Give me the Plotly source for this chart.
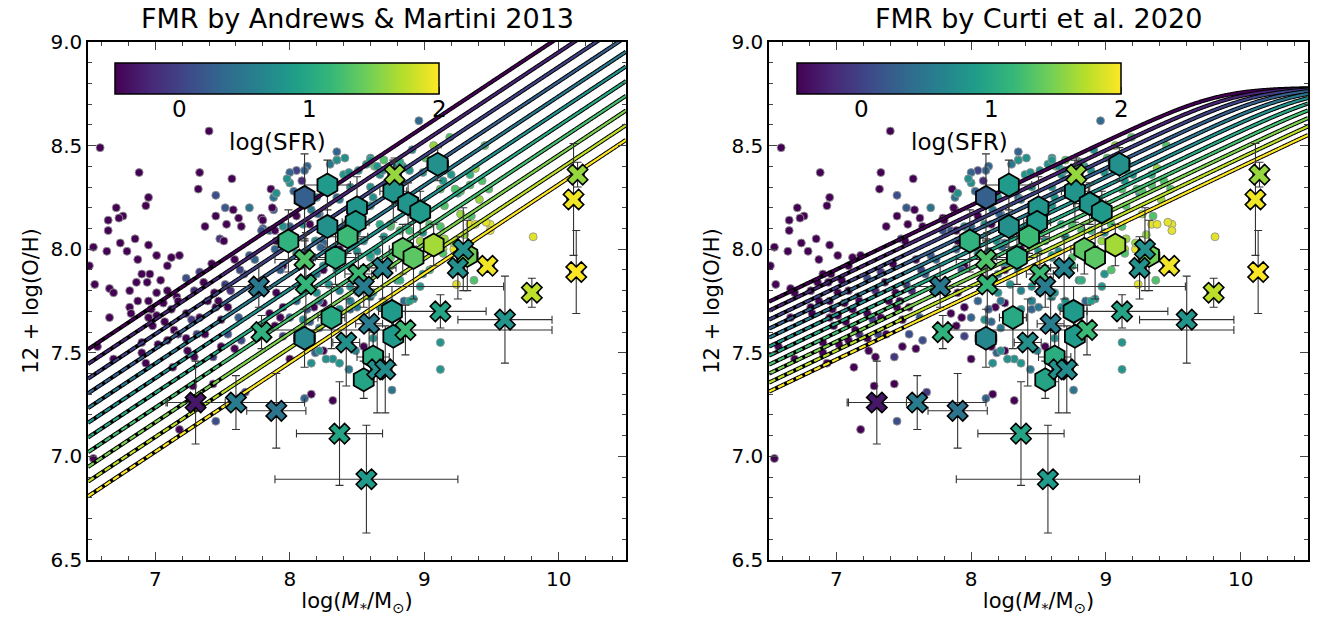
import numpy as np
import plotly.graph_objects as go
from plotly.colors import sample_colorscale

# ---------------- data ----------------
# background galaxies: log stellar mass, 12+log(O/H), log SFR
bg_logM = [6.59,7.40,6.88,7.33,7.57,7.32,7.45,7.86,7.88,6.95,6.93,6.71,6.76,6.73,6.65,6.65,7.52,7.58,7.70,7.45,
           7.62,7.79,7.88,7.37,7.53,7.64,6.85,6.74,6.95,6.54,6.64,6.79,7.48,7.51,7.80,6.87,7.01,7.18,7.12,7.09,
           7.42,7.59,6.51,6.90,6.96,6.86,6.94,7.04,6.55,6.66,6.69,6.81,7.01,7.09,7.16,7.23,7.33,7.36,7.29,7.44,
           7.52,7.66,7.74,6.57,6.66,6.87,6.81,6.82,6.95,6.97,7.06,7.01,6.95,6.98,7.12,7.17,7.07,7.14,7.09,6.90,
           6.90,6.93,6.69,7.02,7.17,7.23,7.27,7.33,7.23,7.31,7.37,7.24,7.29,7.13,7.43,7.49,7.54,7.59,7.64,7.49,
           7.54,7.62,7.45,7.39,
           6.54,7.28,7.43,7.18,7.45,7.67,8.11,8.16,8.32,8.76,
           7.95,8.25,8.20,8.29,8.37,8.45,8.60,8.67,8.18,8.13,7.93,7.89,7.95,8.15,8.22,8.19,8.16,8.32,8.37,8.44,
           8.25,8.00,8.49,8.55,8.62,8.45,
           8.89,8.99,9.14,9.12,9.25,9.38,9.43,9.48,9.35,9.49,9.14,9.22,9.24,8.97,8.85,8.92,9.12,9.12,
           8.96,9.19,9.07,9.45,9.81,
           8.05,8.13,8.03,8.00,8.09,8.35,8.40,8.45,8.57,8.67,8.63,8.84,9.20,9.27,9.34,8.16,8.22,8.05,8.10,8.00,
           7.90,7.85,7.80,8.20,8.25,8.13,8.05,8.15,8.25,8.35,8.40,8.50,8.55,8.65,8.70,8.75,8.82,8.89,8.99,9.12,
           9.22,9.14,8.99,9.37,9.34,9.46,8.75,8.80,8.62,8.70,8.45,8.50,8.37,8.25,8.20,8.05,7.95,7.90,7.85,8.00,
           8.10,8.15,8.22,8.27,
           8.35,8.35,8.00,8.11,7.98,8.44,8.60,8.70,8.65,8.80,7.90,7.87,8.20,8.35,8.60,8.62,8.80,8.15,7.89,7.95,
           8.23,8.37,8.50,8.60,8.75,
           8.30,8.41,8.51,8.60,8.69,8.82,8.91,9.01,9.15,9.23,9.34,9.41,9.15,9.27,9.38,9.49,9.04,8.97,9.15,9.30,
           8.67,8.60,8.37,8.21,8.19,8.60,8.75,8.82,9.04,8.89,8.45,8.22,8.08,7.93,7.89,7.79,7.70,7.63,7.56,7.47]
bg_OH = [8.49,8.57,8.37,8.37,8.34,8.29,8.26,8.29,8.25,8.25,8.21,8.20,8.16,8.15,8.14,8.09,8.20,8.19,8.20,8.16,
         8.15,8.15,8.19,8.11,8.12,8.11,8.05,8.03,8.02,8.01,7.99,7.99,8.05,8.04,8.10,7.95,7.97,7.97,7.96,7.92,
         7.93,7.95,7.92,7.88,7.88,7.84,7.84,7.85,7.83,7.81,7.79,7.80,7.79,7.80,7.77,7.86,7.89,7.84,7.80,7.79,
         7.83,7.88,7.95,7.53,7.67,7.75,7.72,7.69,7.75,7.71,7.74,7.68,7.67,7.63,7.71,7.75,7.65,7.61,7.56,7.55,
         7.50,7.45,7.47,7.54,7.59,7.69,7.66,7.67,7.57,7.59,7.59,7.51,7.48,7.43,7.48,7.53,7.59,7.52,7.56,7.66,
         7.72,7.67,7.72,7.75,
         6.99,7.34,7.35,7.13,7.17,7.31,7.28,7.30,7.27,7.32,
         7.92,7.92,7.88,7.83,7.80,7.82,7.77,7.72,7.72,7.71,7.67,7.63,7.58,7.65,7.62,7.50,7.45,7.47,7.45,7.42,
         7.51,7.47,7.51,7.53,7.57,7.71,
         8.38,8.37,8.33,8.29,8.27,8.39,8.33,8.29,8.16,8.12,8.00,8.00,7.83,7.82,7.75,7.76,7.55,7.42,
         8.62,8.54,8.50,8.50,8.06,
         8.38,8.40,8.28,8.32,8.33,8.43,8.36,8.30,8.41,8.36,8.40,8.40,8.36,8.28,8.36,8.19,8.17,8.16,8.12,8.11,
         8.04,8.09,8.14,8.04,8.03,7.99,7.98,7.93,7.90,7.90,7.98,7.99,8.04,7.99,8.06,8.11,8.09,8.09,8.08,8.11,
         8.03,7.98,7.88,7.85,8.12,8.13,7.96,7.85,7.79,7.75,7.75,7.72,7.71,7.74,7.79,7.75,7.72,7.79,7.69,7.67,
         7.66,7.53,7.51,7.47,
         8.47,8.43,8.37,8.38,8.34,8.37,8.44,8.43,8.40,8.41,8.27,8.20,8.25,8.25,8.30,8.25,8.30,8.12,8.09,8.11,
         8.01,8.00,8.08,7.96,8.12,
         8.41,8.44,8.38,8.43,8.38,8.42,8.48,8.44,8.38,8.29,8.31,8.24,8.21,8.17,8.12,8.09,8.12,8.04,8.05,8.07,
         8.12,8.21,8.24,8.17,8.04,7.97,7.92,7.85,7.90,7.75,7.75,7.75,7.92,7.90,8.00,8.09,7.97,7.90,7.80,7.75]
bg_SFR = [-0.6,-0.6,-0.6,-0.6,-0.6,-0.6,0.1,-0.6,0.45,-0.6,-0.6,-0.6,-0.6,-0.6,-0.6,-0.6,0.2,-0.6,0.45,-0.6,
          -0.6,-0.6,0.2,-0.6,-0.6,-0.6,-0.6,-0.6,-0.6,-0.6,-0.6,-0.6,-0.1,-0.6,0.2,-0.6,-0.6,-0.6,-0.6,-0.6,
          -0.6,-0.6,-0.6,-0.6,-0.6,-0.6,-0.6,-0.6,-0.6,-0.6,-0.6,-0.6,-0.6,-0.6,-0.6,0.1,-0.1,-0.6,-0.2,-0.6,
          0.0,0.2,0.3,-0.6,-0.6,-0.6,-0.6,-0.6,-0.6,-0.6,-0.6,-0.6,-0.6,-0.6,-0.6,-0.6,-0.6,-0.6,-0.6,-0.6,
          -0.6,-0.6,-0.6,-0.6,-0.2,-0.6,-0.1,-0.6,-0.6,0.0,-0.6,-0.6,-0.6,-0.6,-0.1,-0.6,0.1,-0.6,0.1,-0.6,
          -0.6,0.2,-0.6,-0.6,
          -0.6,-0.6,-0.6,-0.6,0.1,-0.1,0.3,-0.6,-0.6,0.45,
          -0.6,0.75,0.45,0.75,0.6,0.75,0.75,0.75,-0.6,0.2,-0.6,-0.6,0.0,0.3,0.5,0.3,0.75,0.75,0.8,0.5,
          -0.6,-0.6,0.6,-0.6,0.75,0.3,
          0.75,0.75,0.8,1.3,0.8,1.6,1.3,1.3,1.3,1.9,1.7,1.9,1.9,0.8,0.35,0.75,0.8,0.8,
          0.35,1.3,1.6,1.3,1.9,
          0.0,0.3,0.3,0.75,-0.2,0.75,0.8,0.75,0.8,0.75,1.3,0.75,0.8,1.3,1.1,0.5,0.3,-0.6,0.75,0.3,
          -0.6,0.2,-0.6,0.75,0.3,0.2,0.75,0.75,-0.6,0.75,0.6,0.75,0.7,0.75,0.8,1.3,1.3,1.2,0.8,1.3,
          1.6,1.3,0.8,1.3,1.9,1.9,1.3,0.8,0.75,0.75,0.75,0.5,0.75,-0.6,0.75,0.3,-0.6,-0.6,-0.6,0.3,
          0.75,-0.6,0.75,0.75,
          0.3,0.75,0.3,0.3,0.75,0.75,0.75,1.3,0.8,0.8,0.75,-0.6,0.75,0.3,0.75,0.75,1.3,-0.6,-0.6,0.75,
          0.3,-0.6,0.75,0.75,1.3,
          0.5,0.75,0.75,0.8,0.75,1.0,0.75,1.3,1.0,1.3,1.3,1.6,1.3,1.6,1.9,1.9,1.3,1.6,1.6,1.6,
          1.0,0.8,0.5,0.3,0.75,0.9,1.0,1.1,1.3,0.9,0.6,0.4,0.5,0.2,0.3,0.1,0.2,0.0,-0.2,-0.6]

# hexagon sample: logM, 12+log(O/H), logSFR, errors
hex_logM = [8.11,8.28,8.50,8.28,8.49,8.43,7.99,8.34,8.77,8.88,8.97,9.10,8.84,8.92,9.07,9.32,8.76,8.31,8.11,8.77,8.62,8.55]
hex_OH   = [8.25,8.31,8.20,8.11,8.13,8.06,8.04,7.96,8.28,8.22,8.18,8.41,8.00,7.96,8.02,7.97,7.70,7.67,7.57,7.58,7.48,7.37]
hex_SFR  = [0.25,0.85,0.80,0.75,0.85,1.20,1.10,1.05,0.80,0.80,0.85,0.75,1.35,1.35,1.65,1.45,0.85,1.00,0.65,0.85,1.05,0.95]
hex_xerr = [0.05,0.17,0.05,0.05,0.10,0.15,0.05,0.15,0.10,0.12,0.05,0.08,0.10,0.05,0.05,0.08,0.10,0.10,0.08,0.05,0.12,0.05]
hex_yerr = [0.21,0.12,0.15,0.10,0.10,0.08,0.15,0.13,0.15,0.10,0.10,0.08,0.12,0.20,0.10,0.17,0.12,0.15,0.14,0.14,0.12,0.09]

# cross sample
x_logM = [7.30,7.60,7.90,8.37,8.57,7.77,8.11,8.12,7.79,8.78,8.51,8.55,8.69,8.59,8.42,8.86,9.12,8.65,8.71,9.25,9.29,9.47,9.80,9.60,10.14,10.11,10.13]
x_OH   = [7.26,7.26,7.22,7.11,6.89,7.82,7.95,7.83,7.60,8.36,7.88,7.82,7.91,7.64,7.55,7.61,7.70,7.42,7.42,7.91,8.00,7.92,7.79,7.66,8.36,8.24,7.89]
x_SFR  = [-0.35,0.55,0.45,0.95,0.85,0.50,1.30,1.15,1.10,1.60,1.20,0.55,0.60,0.55,0.75,1.20,0.95,0.75,0.70,0.75,0.75,1.95,1.75,0.80,1.60,1.95,2.00]
x_xerr = [0.22,0.51,0.22,0.32,0.68,0.05,0.22,0.05,0.05,0.05,0.10,1.04,0.10,0.10,0.10,1.09,0.34,0.05,0.05,0.05,0.05,0.05,0.05,0.35,0.05,0.05,0.05]
x_yerr = [0.20,0.13,0.18,0.25,0.26,0.10,0.10,0.25,0.08,0.08,0.10,0.10,0.15,0.12,0.21,0.12,0.08,0.21,0.21,0.15,0.20,0.03,0.07,0.21,0.06,0.27,0.20]

# FMR model lines
line_SFR = [-0.5,-0.25,0.0,0.25,0.5,0.75,1.0,1.25,1.5,1.75,2.0]
# Andrews & Martini 2013: 12+log(O/H) = a*(logM - alpha*logSFR) + b
AM_a, AM_alpha, AM_b = 0.43, 0.66, 4.58
# Curti et al. 2020
C_Z0, C_m0, C_m1, C_gamma, C_beta = 8.779, 10.11, 0.56, 0.31, 2.1
dash_below = 7.5

cmin, cmax = -0.5, 2.0
cbar_major = [0, 1, 2]
cbar_minor = [-0.4, -0.2, 0.2, 0.4, 0.6, 0.8, 1.2, 1.4, 1.6, 1.8]

W, H = 1325, 627
fig = go.Figure()

panels = [dict(xa='x', ya='y', ca='coloraxis', model='AM'),
          dict(xa='x2', ya='y2', ca='coloraxis2', model='C')]

mgrid = np.linspace(6.5, 10.5, 600)

for p in panels:
    xa, ya, ca = p['xa'], p['ya'], p['ca']
    fig.add_trace(go.Scatter(x=bg_logM, y=bg_OH, mode='markers', xaxis=xa, yaxis=ya,
                             marker=dict(size=8, color=bg_SFR, coloraxis=ca,
                                         line=dict(color='rgba(150,150,150,0.9)', width=1)),
                             showlegend=False, hoverinfo='skip'))
    for s in line_SFR:
        if p['model'] == 'AM':
            oh = AM_a * (mgrid - AM_alpha * s) + AM_b
        else:
            logM0 = C_m0 + C_m1 * s
            oh = C_Z0 - C_gamma / C_beta * np.log10(1 + 10 ** (-(mgrid - logM0) * C_beta))
        col = sample_colorscale('Viridis', [(s - cmin) / (cmax - cmin)])[0]
        fig.add_trace(go.Scatter(x=mgrid, y=oh, mode='lines', xaxis=xa, yaxis=ya,
                                 line=dict(color='black', width=4.2, simplify=False), showlegend=False, hoverinfo='skip'))
        sel = mgrid >= dash_below
        fig.add_trace(go.Scatter(x=mgrid[sel], y=oh[sel], mode='lines', xaxis=xa, yaxis=ya,
                                 line=dict(color=col, width=2.2, simplify=False), showlegend=False, hoverinfo='skip'))
        sel2 = mgrid <= dash_below + 0.01
        fig.add_trace(go.Scatter(x=mgrid[sel2], y=oh[sel2], mode='lines', xaxis=xa, yaxis=ya,
                                 line=dict(color=col, width=2.2, dash='7px,3px', simplify=False), showlegend=False, hoverinfo='skip'))
    # error bars
    for xs, ys, xe, ye in [(hex_logM, hex_OH, hex_xerr, hex_yerr), (x_logM, x_OH, x_xerr, x_yerr)]:
        fig.add_trace(go.Scatter(x=xs, y=ys, mode='markers', xaxis=xa, yaxis=ya,
                                 marker=dict(size=1, opacity=0),
                                 error_x=dict(type='data', array=xe, color='#333333', thickness=1.1, width=4),
                                 error_y=dict(type='data', array=ye, color='#333333', thickness=1.1, width=4),
                                 showlegend=False, hoverinfo='skip'))
    fig.add_trace(go.Scatter(x=hex_logM, y=hex_OH, mode='markers', xaxis=xa, yaxis=ya,
                             marker=dict(symbol='hexagon', size=23, color=hex_SFR, coloraxis=ca,
                                         line=dict(color='black', width=1.8)),
                             showlegend=False, hoverinfo='skip'))
    fig.add_trace(go.Scatter(x=x_logM, y=x_OH, mode='markers', xaxis=xa, yaxis=ya,
                             marker=dict(symbol='x', size=18, color=x_SFR, coloraxis=ca,
                                         line=dict(color='black', width=1.6)),
                             showlegend=False, hoverinfo='skip'))

font = 'DejaVu Sans, Arial, sans-serif'
xdomL = [88 / W, 626 / W]
xdomR = [769 / W, 1308 / W]
ydom = [1 - 560 / H, 1 - 42 / H]

def xaxis_cfg(dom, anchor):
    return dict(domain=dom, anchor=anchor, range=[6.5, 10.5], tickvals=[7, 8, 9, 10],
                ticks='inside', ticklen=8, tickwidth=1.2, mirror='ticks', showline=True,
                linecolor='black', linewidth=1.5, showgrid=False, zeroline=False, automargin=False,
                tickfont=dict(size=20, color='black', family=font),
                minor=dict(dtick=0.2, tick0=6.4, ticks='inside', ticklen=4, tickwidth=1, showgrid=False),
                title=dict(text='log(<i>M</i><sub>*</sub>/M<sub>⊙</sub>)', font=dict(size=21, color='black', family=font), standoff=4))

def yaxis_cfg(anchor):
    return dict(domain=ydom, anchor=anchor, range=[6.5, 9.0], tickvals=[6.5, 7.0, 7.5, 8.0, 8.5, 9.0],
                ticktext=['6.5', '7.0', '7.5', '8.0', '8.5', '9.0'],
                ticks='inside', ticklen=8, tickwidth=1.2, mirror='ticks', showline=True,
                linecolor='black', linewidth=1.5, showgrid=False, zeroline=False, automargin=False,
                tickfont=dict(size=20, color='black', family=font),
                minor=dict(dtick=0.1, tick0=6.5, ticks='inside', ticklen=4, tickwidth=1, showgrid=False),
                title=dict(text='12 + log(O/H)', font=dict(size=21, color='black', family=font), standoff=6))

# colorbar geometry (pixels)
cb_left = {'L': 115, 'R': 797}
cb_top, cb_bot, cb_len = 63, 94, 324

def cax(xpos):
    return dict(colorscale='Viridis', cmin=cmin, cmax=cmax,
                colorbar=dict(orientation='h', x=xpos, xanchor='left', y=1 - cb_top / H, yanchor='top',
                              len=cb_len, lenmode='pixels', thickness=cb_bot - cb_top, thicknessmode='pixels',
                              outlinecolor='black', outlinewidth=1.5,
                              showticklabels=False, ticks='',
                              xpad=0, ypad=0))

shapes = []
annotations = []
for key in ['L', 'R']:
    x0 = cb_left[key]
    def vx(v):
        return (x0 + (v - cmin) / (cmax - cmin) * cb_len) / W
    for v in cbar_major:
        shapes.append(dict(type='line', xref='paper', yref='paper', x0=vx(v), x1=vx(v),
                           y0=1 - cb_bot / H, y1=1 - (cb_bot - 7) / H, line=dict(color='black', width=1.3)))
        annotations.append(dict(text=str(v), x=vx(v), y=1 - 109 / H, xref='paper', yref='paper',
                                xanchor='center', yanchor='middle', showarrow=False,
                                font=dict(size=23, color='black', family=font)))
    for v in cbar_minor:
        shapes.append(dict(type='line', xref='paper', yref='paper', x0=vx(v), x1=vx(v),
                           y0=1 - cb_bot / H, y1=1 - (cb_bot - 4) / H, line=dict(color='black', width=1)))
    annotations.append(dict(text='log(SFR)', x=(x0 + cb_len / 2) / W, y=1 - 142 / H, xref='paper', yref='paper',
                            xanchor='center', yanchor='middle', showarrow=False,
                            font=dict(size=23, color='black', family=font)))

annotations += [
    dict(text='FMR by Andrews & Martini 2013', x=(xdomL[0] + xdomL[1]) / 2, y=1 - 19 / H,
         xanchor='center', yanchor='middle',
         xref='paper', yref='paper', showarrow=False, font=dict(size=27, color='black', family=font)),
    dict(text='FMR by Curti et al. 2020', x=(xdomR[0] + xdomR[1]) / 2, y=1 - 19 / H,
         xanchor='center', yanchor='middle',
         xref='paper', yref='paper', showarrow=False, font=dict(size=27, color='black', family=font)),
]

fig.update_layout(
    width=W, height=H, margin=dict(l=0, r=0, t=0, b=0, autoexpand=False),
    paper_bgcolor='white', plot_bgcolor='white',
    xaxis=xaxis_cfg(xdomL, 'y'), yaxis=yaxis_cfg('x'),
    xaxis2=xaxis_cfg(xdomR, 'y2'), yaxis2=yaxis_cfg('x2'),
    coloraxis=cax(cb_left['L'] / W), coloraxis2=cax(cb_left['R'] / W),
    shapes=shapes, annotations=annotations,
    showlegend=False,
)

fig.write_html('out.html')
